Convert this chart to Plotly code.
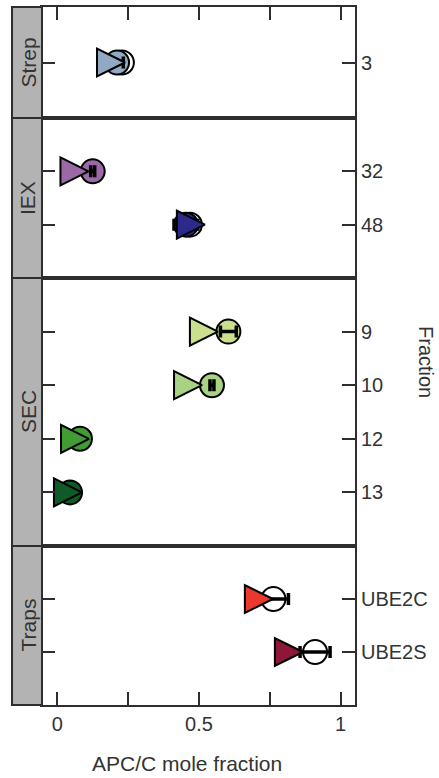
import plotly.graph_objects as go

# ---- data -------------------------------------------------------------
groups = ["Strep", "IEX", "SEC", "Traps"]
fraction = ["3", "32", "48", "9", "10", "12", "13", "UBE2C", "UBE2S"]
group_of = ["Strep", "IEX", "IEX", "SEC", "SEC", "SEC", "SEC", "Traps", "Traps"]
colors = ["#91a9c2", "#9b69a5", "#2c2b8a", "#cbe08f", "#a8d384",
          "#429b34", "#0f5b27", "#e8392c", "#8c1739"]
# filled circles (with SD), open circles (with SD), triangles
circle_x = [0.211, 0.125, 0.454, 0.604, 0.546, 0.080, 0.045, None, None]
circle_err = [0.022, 0.007, 0.042, 0.028, 0.007, None, None, None, None]
open_x = [0.228, None, 0.468, None, None, None, None, 0.763, 0.910]
open_err = [None, None, None, None, None, None, None, 0.053, 0.053]
triangle_x = [0.239, 0.110, 0.521, 0.567, 0.511, 0.112, 0.087, 0.761, 0.867]

# ---- page geometry (pixels) -------------------------------------------
W, H = 439, 778
px_left, px_right = 42, 355
strip_left = 12
panel_top = [7, 118, 278, 546]
panel_bot = [118, 278, 546, 705]

FONT = "Liberation Sans, Arial, sans-serif"
TXT = "#333333"
LINE = "#2e2e2e"
TICK_SIZE = 20
TITLE_SIZE = 21


def fx(p):
    return p / W


def fy(p):
    return 1 - p / H


fig = go.Figure()
layout = dict(
    width=W, height=H,
    margin=dict(l=0, r=0, t=0, b=0),
    paper_bgcolor="white", plot_bgcolor="white",
    showlegend=False,
    font=dict(family=FONT, size=TICK_SIZE, color=TXT),
    shapes=[], annotations=[],
)

for gi, g in enumerate(groups):
    idx = [i for i, gg in enumerate(group_of) if gg == g]
    n = len(idx)
    k = "" if gi == 0 else str(gi + 1)
    xa, ya = "x" + k, "y" + k
    pos = list(range(n))

    def pick(arr):
        return [arr[i] for i in idx]

    # open circles
    ox = pick(open_x)
    oy = [p for p, v in zip(pos, ox) if v is not None]
    fig.add_trace(go.Scatter(
        x=[v for v in ox if v is not None], y=oy, mode="markers",
        xaxis=xa, yaxis=ya, cliponaxis=False,
        marker=dict(symbol="circle", size=24, color="white",
                    line=dict(color="black", width=2))))
    # filled circles
    cx = pick(circle_x)
    cc = pick(colors)
    sel = [j for j, v in enumerate(cx) if v is not None]
    fig.add_trace(go.Scatter(
        x=[cx[j] for j in sel], y=[pos[j] for j in sel], mode="markers",
        xaxis=xa, yaxis=ya, cliponaxis=False,
        marker=dict(symbol="circle", size=24, color=[cc[j] for j in sel],
                    line=dict(color="black", width=2))))
    # error bars drawn above the circles
    for vals, errs in ((cx, pick(circle_err)), (ox, pick(open_err))):
        sel = [j for j in range(n) if vals[j] is not None and errs[j] is not None]
        if not sel:
            continue
        fig.add_trace(go.Scatter(
            x=[vals[j] for j in sel], y=[pos[j] for j in sel], mode="markers",
            xaxis=xa, yaxis=ya, cliponaxis=False,
            marker=dict(size=1, color="rgba(0,0,0,0)"),
            error_x=dict(type="data", array=[errs[j] for j in sel],
                         color="black", thickness=3.5, width=6)))
    # triangles
    fig.add_trace(go.Scatter(
        x=pick(triangle_x), y=pos, mode="markers",
        xaxis=xa, yaxis=ya, cliponaxis=False,
        marker=dict(symbol="arrow-right", size=28, color=cc,
                    line=dict(color="black", width=2))))

    top, bot = panel_top[gi], panel_bot[gi]
    xaxis = dict(
        domain=[fx(px_left), fx(px_right)], range=[-0.054, 1.051],
        anchor=ya, showgrid=False, zeroline=False,
        showline=True, linecolor=LINE, linewidth=2, mirror=True,
        tickvals=[0, 0.25, 0.5, 0.75, 1],
        ticktext=["0", "", "0.5", "", "1"],
        ticks="", showticklabels=False,
    )
    if gi == 0:
        xaxis.update(side="top", ticks="inside", ticklen=13, tickwidth=2,
                     tickcolor=LINE)
    if gi == len(groups) - 1:
        xaxis.update(side="bottom", ticks="inside", ticklen=13, tickwidth=2,
                     tickcolor=LINE, showticklabels=True,
                     tickfont=dict(size=TICK_SIZE, color=TXT))
    layout["xaxis" + k] = xaxis
    layout["yaxis" + k] = dict(
        domain=[fy(bot), fy(top)], range=[n, -1],
        anchor=xa, side="right", showgrid=False, zeroline=False,
        showline=True, linecolor=LINE, linewidth=2, mirror="ticks",
        ticks="inside", ticklen=13, tickwidth=2, tickcolor=LINE,
        tickvals=pos, ticktext=pick(fraction),
        tickfont=dict(size=TICK_SIZE, color=TXT),
    )

    # facet strip
    layout["shapes"].append(dict(
        type="rect", xref="paper", yref="paper",
        x0=fx(strip_left), x1=fx(px_left), y0=fy(bot), y1=fy(top),
        fillcolor="#b3b3b3", line=dict(color=LINE, width=2)))
    layout["annotations"].append(dict(
        xref="paper", yref="paper", x=fx((strip_left + px_left) / 2 + 1),
        y=fy((top + bot) / 2), text=g, textangle=-90, showarrow=False,
        font=dict(size=TITLE_SIZE, color=TXT), xanchor="center",
        yanchor="middle"))

# axis titles
layout["annotations"].append(dict(
    xref="paper", yref="paper", x=fx(187), y=fy(763),
    text="APC/C mole fraction", showarrow=False,
    font=dict(size=TITLE_SIZE, color=TXT), xanchor="center", yanchor="middle"))
layout["annotations"].append(dict(
    xref="paper", yref="paper", x=fx(438), y=fy(362),
    text="Fraction", textangle=90, showarrow=False, borderpad=0,
    font=dict(size=20, color=TXT), xanchor="right", yanchor="middle"))

fig.update_layout(**layout)
fig.write_html("out.html")
